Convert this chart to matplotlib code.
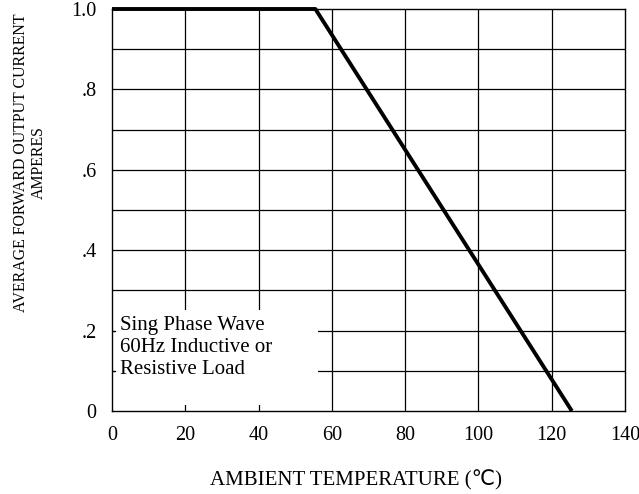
import matplotlib
matplotlib.use("Agg")
import matplotlib.pyplot as plt
from matplotlib.patches import Rectangle

# derating curve
temp = [0, 55.5, 125.5]
current = [1.0, 1.0, 0.0]

x_ticks = [0, 20, 40, 60, 80, 100, 120, 140]
y_ticks = [0, 0.2, 0.4, 0.6, 0.8, 1.0]
y_tick_labels = ["0", ".2", ".4", ".6", ".8", "1.0"]
y_grid = [0.1, 0.2, 0.3, 0.4, 0.5, 0.6, 0.7, 0.8, 0.9]

note = "Sing Phase Wave\n60Hz Inductive or\nResistive Load"

plt.rcParams["font.family"] = ["Liberation Serif", "DejaVu Sans"]
plt.rcParams["font.size"] = 15

fig = plt.figure(figsize=(6.39, 4.94), dpi=100)
ax = fig.add_axes([112 / 639, 1 - 411 / 494, 513 / 639, 402 / 494])

ax.set_xlim(0, 140)
ax.set_ylim(0, 1.0)

# grid
for xv in x_ticks[1:-1]:
    ax.axvline(xv, color="black", lw=0.9, zorder=1)
for yv in y_grid:
    ax.axhline(yv, color="black", lw=0.9, zorder=1)

# white note box covering the grid
ax.add_patch(Rectangle((0.8, 0.015), 55.4, 0.237, facecolor="white",
                       edgecolor="none", zorder=2))
ax.text(2.3, 0.158, note, fontsize=15, va="center", ha="left",
        linespacing=1.2, zorder=3)
# left-axis stubs
for yv in [0.1, 0.2]:
    ax.plot([0, 0.8], [yv, yv], color="black", lw=0.9, zorder=3)

ax.plot(temp, current, color="black", lw=2.8, zorder=4,
        solid_capstyle="butt", clip_on=False)

ax.set_xticks(x_ticks)
ax.set_yticks(y_ticks)
ax.set_yticklabels(y_tick_labels)
ax.tick_params(length=0, labelsize=14.5)
ax.tick_params(axis="x", pad=11)
ax.tick_params(axis="y", pad=11)
for s in ax.spines.values():
    s.set_linewidth(1.0)

fig.text(356 / 639, 1 - 480 / 494, "AMBIENT TEMPERATURE (℃)",
         ha="center", va="center", fontsize=15)
fig.text(30 / 639, 1 - 163 / 494,
         "AVERAGE FORWARD OUTPUT CURRENT\nAMPERES",
         rotation=90, ha="center", va="center", fontsize=11.4,
         multialignment="center", linespacing=1.15)

fig.savefig("out.png", dpi=100)
